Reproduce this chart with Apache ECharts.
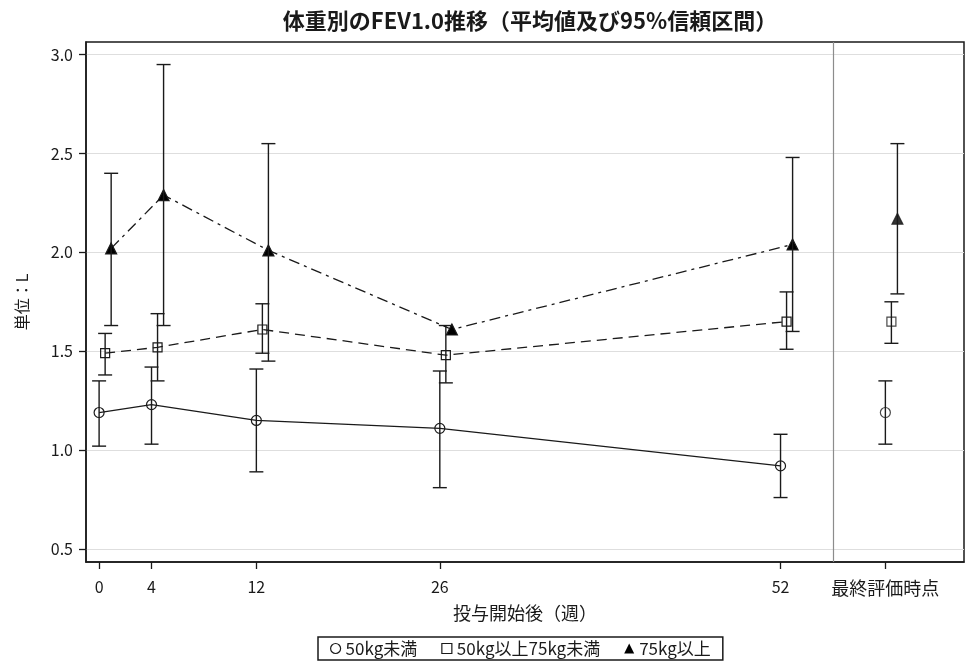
<!DOCTYPE html>
<html>
<head>
<meta charset="utf-8">
<script src="https://cdn.jsdelivr.net/npm/echarts@6/dist/echarts.min.js"></script>
<style>
  html, body { margin: 0; padding: 0; background: #fff; }
  #main { width: 969px; height: 664px; }
</style>
</head>
<body>
<div id="main"></div>
<script>
// 週（x軸）と最終評価時点の位置
var weeks = [0, 4, 12, 26, 52]
var finalPos = 60
var tickValues = [0, 4, 12, 26, 52, 60]
var tickLabels = ['0', '4', '12', '26', '52', '最終評価時点']
var yTicks = [0.5, 1.0, 1.5, 2.0, 2.5, 3.0]

var groupNames = ['50kg未満', '50kg以上75kg未満', '75kg以上']

// 50kg未満
var mean1 = [1.19, 1.23, 1.15, 1.11, 0.92]
var lower1 = [1.02, 1.03, 0.89, 0.81, 0.76]
var upper1 = [1.35, 1.42, 1.41, 1.40, 1.08]
var final1 = [1.19, 1.03, 1.35] // 平均, 下限, 上限

// 50kg以上75kg未満
var mean2 = [1.49, 1.52, 1.61, 1.48, 1.65]
var lower2 = [1.38, 1.35, 1.49, 1.34, 1.51]
var upper2 = [1.59, 1.69, 1.74, 1.63, 1.80]
var final2 = [1.65, 1.54, 1.75]

// 75kg以上（26週は信頼区間なし）
var mean3 = [2.02, 2.29, 2.01, 1.61, 2.04]
var lower3 = [1.63, 1.63, 1.45, null, 1.60]
var upper3 = [2.40, 2.95, 2.55, null, 2.48]
var final3 = [2.17, 1.79, 2.55]

var FONT = '"Noto Sans CJK JP", "Noto Sans", sans-serif'
var INK = '#1a1a1a'
// 群ごとの横ずらし（週単位）
var dodge = [0, 0.46, 0.92]

var chart = echarts.init(document.getElementById('main'))

var means = [mean1, mean2, mean3]
var lowers = [lower1, lower2, lower3]
var uppers = [upper1, upper2, upper3]
var finals = [final1, final2, final3]
var symbols = ['circle', 'rect', 'triangle']
var symbolSizes = [10, 9, 11]
var fills = ['rgba(0,0,0,0)', 'rgba(0,0,0,0)', '#000']
var dashes = ['solid', [10, 6], [11, 5, 3, 5]]

var errorBarItem = function (params, api) {
  var x = api.value(0)
  var top = api.coord([x, api.value(2)])
  var bot = api.coord([x, api.value(1)])
  var w = 7
  var st = { stroke: INK, lineWidth: 1.4 }
  return {
    type: 'group',
    children: [
      { type: 'line', shape: { x1: top[0], y1: top[1], x2: bot[0], y2: bot[1] }, style: st },
      { type: 'line', shape: { x1: top[0] - w, y1: top[1], x2: top[0] + w, y2: top[1] }, style: st },
      { type: 'line', shape: { x1: bot[0] - w, y1: bot[1], x2: bot[0] + w, y2: bot[1] }, style: st }
    ]
  }
}

var series = []
groupNames.forEach(function (name, g) {
  var markerStyle = { color: fills[g], borderColor: INK, borderWidth: 1.2 }
  var line = {
    name: name,
    type: 'line',
    z: 3,
    data: weeks.map(function (w, i) { return [w + dodge[g], means[g][i]] }),
    symbol: symbols[g],
    symbolSize: symbolSizes[g],
    showSymbol: true,
    itemStyle: markerStyle,
    lineStyle: { color: INK, width: 1.3, type: dashes[g] }
  }
  if (g === 0) {
    line.markLine = {
      silent: true,
      symbol: 'none',
      label: { show: false },
      lineStyle: { color: '#8c8c8c', width: 1.2, type: 'solid' },
      data: [{ xAxis: 56 }]
    }
  }
  series.push(line)
  series.push({
    name: name,
    type: 'scatter',
    z: 3,
    data: [[finalPos + dodge[g], finals[g][0]]],
    symbol: symbols[g],
    symbolSize: symbolSizes[g],
    itemStyle: markerStyle
  })
  var bars = []
  weeks.forEach(function (w, i) {
    if (lowers[g][i] != null) bars.push([w + dodge[g], lowers[g][i], uppers[g][i]])
  })
  bars.push([finalPos + dodge[g], finals[g][1], finals[g][2]])
  series.push({
    name: name,
    type: 'custom',
    z: 4,
    renderItem: errorBarItem,
    encode: { x: 0, y: [1, 2] },
    data: bars
  })
})

var option = {
  animation: false,
  backgroundColor: '#fff',
  textStyle: { fontFamily: FONT },
  title: {
    text: '体重別のFEV1.0推移（平均値及び95%信頼区間）',
    left: 525,
    textAlign: 'center',
    top: 5,
    textStyle: { fontFamily: FONT, fontSize: 22, fontWeight: 'bold', color: INK }
  },
  legend: {
    bottom: 4,
    left: 318,
    orient: 'horizontal',
    borderColor: INK,
    borderWidth: 1.5,
    padding: [3, 12],
    itemGap: 24,
    itemWidth: 10,
    itemHeight: 10,
    textStyle: { fontFamily: FONT, fontSize: 17, color: INK },
    data: [
      { name: groupNames[0], icon: 'circle', itemStyle: { color: 'rgba(0,0,0,0)', borderColor: INK, borderWidth: 1.2 } },
      { name: groupNames[1], icon: 'rect', itemStyle: { color: 'rgba(0,0,0,0)', borderColor: INK, borderWidth: 1.2 } },
      { name: groupNames[2], icon: 'triangle', itemStyle: { color: '#000', borderColor: '#000', borderWidth: 0 } }
    ]
  },
  grid: {
    left: 86,
    right: 5,
    top: 42,
    bottom: 102,
    show: true,
    borderColor: INK,
    borderWidth: 1.5,
    containLabel: false
  },
  xAxis: {
    type: 'value',
    min: -1,
    max: 66,
    name: '投与開始後（週）',
    nameLocation: 'middle',
    nameGap: 42,
    nameTextStyle: { fontFamily: FONT, fontSize: 18, color: INK },
    axisLine: { show: true, onZero: false, lineStyle: { color: INK, width: 1.5 } },
    axisTick: { show: true, length: 7, customValues: tickValues, lineStyle: { color: INK, width: 1.3 } },
    axisLabel: {
      customValues: tickValues,
      margin: 17,
      fontFamily: FONT,
      fontSize: 16,
      color: INK,
      formatter: function (v) {
        var i = tickValues.indexOf(v)
        if (i < 0) return ''
        return v === finalPos ? '{c|' + tickLabels[i] + '}' : tickLabels[i]
      },
      rich: { c: { fontFamily: FONT, fontSize: 18, color: INK } }
    },
    splitLine: { show: false }
  },
  yAxis: {
    type: 'value',
    min: 0.434,
    max: 3.064,
    name: '単位：L',
    nameLocation: 'middle',
    nameRotate: 90,
    nameGap: 56,
    nameTextStyle: { fontFamily: FONT, fontSize: 16, color: INK },
    axisLine: { show: true, onZero: false, lineStyle: { color: INK, width: 1.5 } },
    axisTick: { show: true, length: 7, customValues: yTicks, lineStyle: { color: INK, width: 1.3 } },
    axisLabel: {
      customValues: yTicks,
      margin: 13,
      fontFamily: FONT,
      fontSize: 16,
      color: INK,
      formatter: function (v) { return v.toFixed(1) }
    },
    splitLine: { show: true, lineStyle: { color: '#dedede', width: 1 } }
  },
  series: series
}

chart.setOption(option)
</script>
</body>
</html>
